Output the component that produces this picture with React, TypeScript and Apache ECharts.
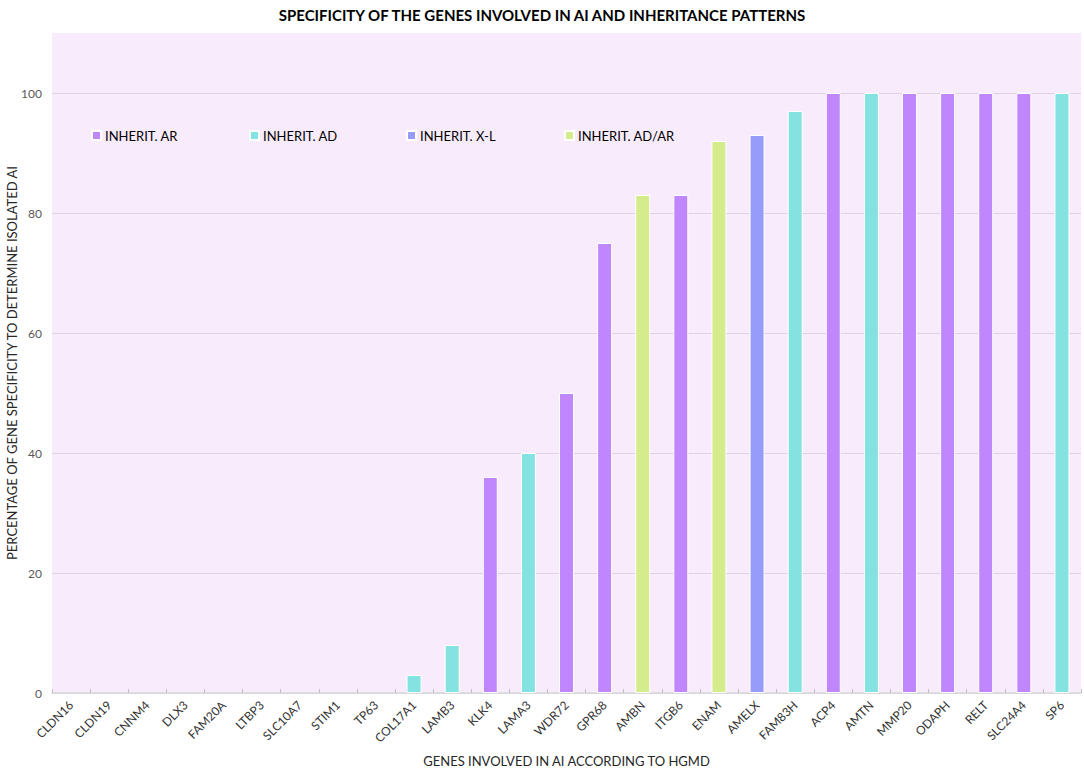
import React, { useEffect, useRef } from "react";
import * as echarts from "echarts";

const TITLE = "SPECIFICITY OF THE GENES INVOLVED IN AI AND INHERITANCE PATTERNS";
const X_NAME = "GENES INVOLVED IN AI ACCORDING TO HGMD";
const Y_NAME = "PERCENTAGE OF GENE SPECIFICITY TO DETERMINE ISOLATED AI";

const genes = [
  "CLDN16", "CLDN19", "CNNM4", "DLX3", "FAM20A", "LTBP3", "SLC10A7", "STIM1", "TP63",
  "COL17A1", "LAMB3", "KLK4", "LAMA3", "WDR72", "GPR68", "AMBN", "ITGB6", "ENAM",
  "AMELX", "FAM83H", "ACP4", "AMTN", "MMP20", "ODAPH", "RELT", "SLC24A4", "SP6",
];
const specificity = [
  0, 0, 0, 0, 0, 0, 0, 0, 0,
  3, 8, 36, 40, 50, 75, 83, 83, 92,
  93, 97, 100, 100, 100, 100, 100, 100, 100,
];
const inheritance = [
  "AR", "AR", "AR", "AD", "AR", "AR", "AR", "AD", "AD",
  "AD", "AD", "AR", "AD", "AR", "AR", "AD/AR", "AR", "AD/AR",
  "X-L", "AD", "AR", "AD", "AR", "AR", "AR", "AR", "AD",
];
const patterns = ["AR", "AD", "X-L", "AD/AR"];
const patternNames = ["INHERIT. AR", "INHERIT. AD", "INHERIT. X-L", "INHERIT. AD/AR"];
const patternColors = ["#BF87FB", "#84E2E0", "#979CFA", "#D4EC8C"];
const yTicks = [0, 20, 40, 60, 80, 100];

const FONT = "Lato, 'Open Sans', sans-serif";

export default function App() {
  const ref = useRef<HTMLDivElement>(null);
  useEffect(() => {
    if (!ref.current) return;
    const chart = echarts.init(ref.current, null, { renderer: "svg" });
    const series = patterns.map((p, i) => ({
      name: patternNames[i],
      type: "bar",
      stack: "all",
      barWidth: 15,
      z: 3,
      itemStyle: { color: patternColors[i], borderColor: "#ffffff", borderWidth: 1 },
      data: specificity.map((v, k) => (inheritance[k] === p && v > 0 ? v : null)),
    }));
    const legendLeft = [91, 249, 406, 564];
    chart.setOption({
      animation: false,
      backgroundColor: "#ffffff",
      textStyle: { fontFamily: FONT },
      title: {
        text: TITLE,
        left: "center",
        top: 2,
        textStyle: { fontFamily: FONT, fontSize: 15, fontWeight: "bold", color: "#000000" },
      },
      graphic: [
        {
          type: "rect",
          z: -10,
          shape: { x: 52, y: 33, width: 1029, height: 660 },
          style: { fill: "#F7EBFC" },
          silent: true,
        },
      ],
      legend: patternNames.map((n, i) => ({
        data: [n],
        left: legendLeft[i],
        top: 129,
        padding: 0,
        itemWidth: 9,
        itemHeight: 9,
        itemGap: 4,
        icon: "rect",
        textStyle: { fontFamily: FONT, fontSize: 13, color: "#000000", padding: [0, 0, 0, -1] },
      })),
      grid: { left: 52, right: 3, top: 93, bottom: 76, containLabel: false, outerBoundsMode: "none" },
      xAxis: {
        type: "category",
        data: genes,
        name: X_NAME,
        nameLocation: "middle",
        nameGap: 61,
        nameTextStyle: { fontFamily: FONT, fontSize: 13, color: "#262626" },
        axisLine: { lineStyle: { color: "#D9D9D9", width: 1.5 } },
        axisTick: { show: true, inside: true, length: 4, lineStyle: { color: "#BFBFBF" } },
        axisLabel: { rotate: 45, fontSize: 12, color: "#333333", margin: 10, interval: 0, fontFamily: FONT },
      },
      yAxis: {
        type: "value",
        min: yTicks[0],
        max: yTicks[yTicks.length - 1],
        interval: 20,
        name: Y_NAME,
        nameLocation: "middle",
        nameGap: 34,
        nameMoveOverlap: false,
        nameTextStyle: { fontFamily: FONT, fontSize: 13, color: "#262626", padding: [0, 0, 0, 60] },
        axisLine: { show: false },
        axisTick: { show: false },
        axisLabel: { fontSize: 12, color: "#595959", margin: 10, fontFamily: FONT },
        splitLine: { lineStyle: { color: "#DDD3E2", width: 1 } },
      },
      series,
    });
    return () => chart.dispose();
  }, []);
  return (
    <div
      ref={ref}
      style={{ position: "fixed", left: 0, top: 0, width: 1084, height: 769 }}
    />
  );
}
